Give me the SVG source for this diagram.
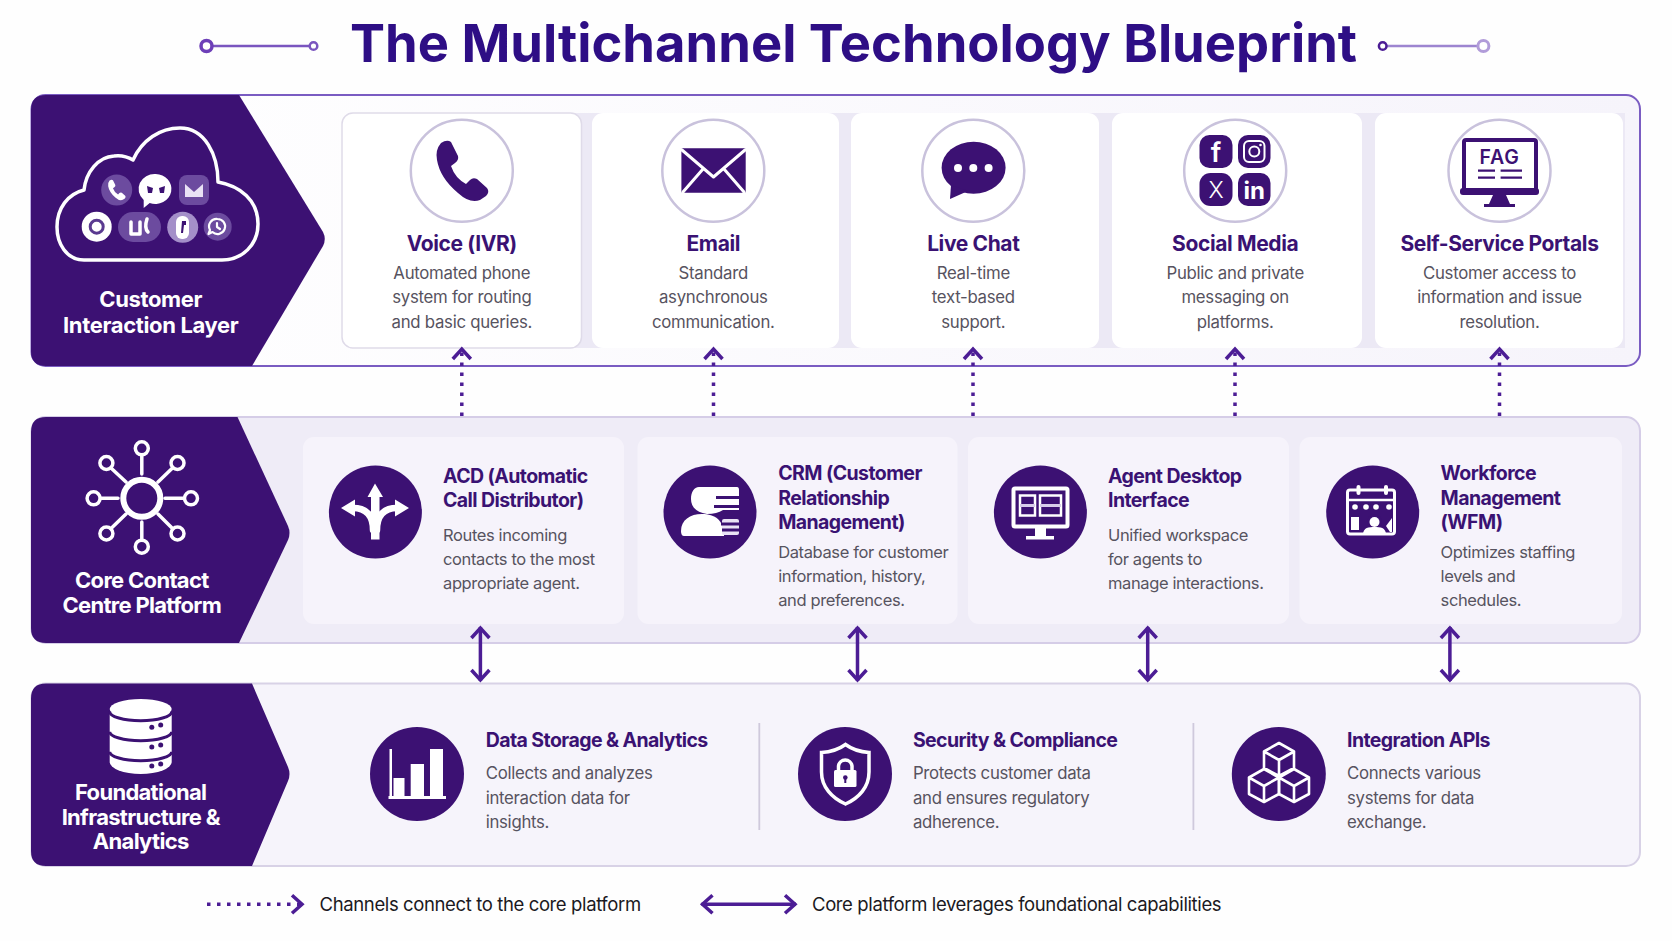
<svg xmlns="http://www.w3.org/2000/svg" xmlns:xlink="http://www.w3.org/1999/xlink" width="1672" height="941" viewBox="0 0 1672 941">
<defs>
<style>
text{font-family:Inter,"Liberation Sans",sans-serif}
.title{font-size:52.5px;font-weight:700;fill:#2e0e85}
.band{font-size:22px;font-weight:700;fill:#fff;text-anchor:middle;letter-spacing:-.35px}
.band2{letter-spacing:-.7px}
.ct{font-size:21px;font-weight:700;fill:#3a1273;text-anchor:middle;letter-spacing:-.38px}
.cd{font-size:16.8px;fill:#575360;text-anchor:middle;letter-spacing:-.28px}
.st{font-size:19.5px;font-weight:700;fill:#3a1273;letter-spacing:-.58px}
.sd{font-size:16.5px;fill:#575360;letter-spacing:-.38px}
.sd3{font-size:16.8px;fill:#575360;letter-spacing:-.3px}
.lg{font-size:18.5px;fill:#1b1922;letter-spacing:-.38px}
.dark{fill:#3c1173}
.w{fill:#fff}
.ws{fill:none;stroke:#fff;stroke-linejoin:round;stroke-linecap:round}
.ring{fill:#fff;stroke:#c9c2dc;stroke-width:2.5}
.card1{fill:#fff}
.card2{fill:#f6f3fb}
.dot{fill:none;stroke:#4c1d95;stroke-width:3.5;stroke-dasharray:3.5 6.5;stroke-linecap:butt}
.solid{fill:none;stroke:#4c1d95;stroke-width:3.5}
.knob{fill:#fff;stroke:#6d3fb8;stroke-width:3.5}
.knobline{stroke:#7a55bf;stroke-width:2.5}
</style>
<marker id="head" markerUnits="userSpaceOnUse" markerWidth="24" markerHeight="24" viewBox="-14 -12 24 24" refX="0" refY="0" orient="auto-start-reverse" overflow="visible">
<path d="M-11,-9 L-1,0 L-11,9" fill="none" stroke="#4c1d95" stroke-width="3.5"/>
</marker>
<path id="phone" d="M441,143 Q447,139 451,142 L458,156 Q459,160 455,163 L451,166 Q455,178 466,184 L470,180 Q473,177 477,179 L487,188 Q490,192 486,196 L480,200 Q470,204 458,193 Q440,178 437,160 Q435,150 441,143 Z"/>
<path id="cube" d="M0,0 L15,8.5 L15,25 L0,33 L-15,25 L-15,8.5 Z M-15,8.5 L0,17 L15,8.5 M0,17 V33"/>
<linearGradient id="p1" x1="0" x2="1" y1="0" y2="0"><stop offset="0" stop-color="#fff"/><stop offset="1" stop-color="#f6f4fb"/></linearGradient>
</defs>
<rect width="1672" height="941" fill="#fefefe"/>

<g id="title">
<text class="title" x="350" y="62">The Multichannel Technology Blueprint</text>
<line class="knobline" x1="212" y1="46" x2="309" y2="46"/>
<circle class="knob" cx="206.5" cy="46" r="5.5"/>
<circle cx="313.5" cy="46" r="3.8" fill="#fff" stroke="#7a55bf" stroke-width="2.5"/>
<line x1="1387" y1="46" x2="1478" y2="46" stroke="#9d85d0" stroke-width="2.5"/>
<circle cx="1382.7" cy="46" r="3.8" fill="#fff" stroke="#4c1d95" stroke-width="2.5"/>
<circle cx="1483.4" cy="46" r="5.5" fill="#fff" stroke="#b19cd9" stroke-width="3"/>
</g>

<g id="layer-customer-interaction">
<rect x="31.5" y="95" width="1608.5" height="271" rx="14" fill="url(#p1)" stroke="#7a5cc2" stroke-width="2"/>
<rect x="575" y="113" width="1050" height="235" fill="#ece9f5"/>
<path class="dark" d="M46,95 H239 L323,232 Q326.500,239 323,246 L252,366 H46 Q31,366 31,351 V110 Q31,95 46,95 Z"/>
<path class="ws" stroke-width="3.5" d="M84,260 C66,260 57,243 57,227 C57,208 68,194 84,190 C86,172 98,157 114,156 C121,155 128,157 133,160 C142,140 160,128 180,128 C205,128 218,155 218,182 C240,186 258,200 258,224 C258,245 242,260 222,260 Z"/>
<circle cx="116.7" cy="190" r="15.5" fill="#6c4b9f"/>
<use href="#phone" fill="#fff" transform="translate(116.7,190) scale(0.34) translate(-462,-171)"/>
<path class="w" d="M155.7,174 a16,15 0 1 1 -6,29 l-6,5 l0,-8 a16,15 0 0 1 12,-26 Z"/>
<path d="M147,186 l6,2 l-1,5 h-4 Z M165,186 l-6,2 l1,5 h4 Z" fill="#3c1173"/>
<rect x="179" y="175" width="30" height="30" rx="8" fill="#6c4b9f"/>
<path d="M185,184 L194,192 L203,184 V197 H185 Z" fill="#e9e2f5"/>
<circle cx="96.7" cy="226.7" r="15" fill="#fff"/>
<circle cx="96.7" cy="226.7" r="6.5" fill="none" stroke="#5a3a90" stroke-width="3"/>
<rect x="118" y="212" width="43" height="30" rx="15" fill="#6c4b9f"/>
<path class="ws" stroke-width="3.5" d="M131,222 V234 H140 V222 M147,219 Q144,228 148,232"/>
<circle cx="182.7" cy="227.3" r="15.5" fill="#a48fc9"/>
<rect x="176" y="216" width="13" height="23" rx="6" fill="#fff"/>
<path d="M182,221 h4 v4 h-2 l-1,8 h-2 Z" fill="#3c1173"/>
<circle cx="217.7" cy="226.7" r="14" fill="#6c4b9f"/>
<path class="ws" stroke-width="2.2" d="M217.5,219 a7.5,7.5 0 1 1 -5,13 l-4,2 l1.500,-4 a7.5,7.5 0 0 1 7.500,-11 Z M217,223 v4 l3,2"/>
<text class="band" x="150.700" y="307">Customer</text>
<text class="band" x="150.700" y="333">Interaction Layer</text>
</g>

<g id="node-voice">
<rect class="card1" x="342" y="113" width="239.500" height="235" rx="11" stroke="#dfdbe9" stroke-width="1.500"/>
<circle class="ring" cx="461.800" cy="170.700" r="51"/>
<use href="#phone" class="dark"/>
<text class="ct" x="461.800" y="251">Voice (IVR)</text>
<text class="cd" x="461.800" y="279">Automated phone</text>
<text class="cd" x="461.800" y="303">system for routing</text>
<text class="cd" x="461.800" y="327.500">and basic queries.</text>
</g>

<g id="node-email">
<rect class="card1" x="592" y="113" width="247" height="235" rx="11"/>
<circle class="ring" cx="713.300" cy="170.700" r="51"/>
<rect class="dark" x="681.400" y="148.300" width="64.300" height="44.400" rx="1.500"/>
<path class="ws" stroke-width="3" d="M682,150 L713.500,177 L745,150 M683,192 L703,169 M744,192 L724,169" stroke-linecap="butt"/>
<text class="ct" x="713.300" y="251">Email</text>
<text class="cd" x="713.300" y="279">Standard</text>
<text class="cd" x="713.300" y="303">asynchronous</text>
<text class="cd" x="713.300" y="327.500">communication.</text>
</g>

<g id="node-live-chat">
<rect class="card1" x="851" y="113" width="248" height="235" rx="11"/>
<circle class="ring" cx="973.300" cy="170.700" r="51"/>
<ellipse class="dark" cx="973.600" cy="167.700" rx="32" ry="26"/>
<path class="dark" d="M951,185 L950,199 L968,191 Z"/>
<circle class="w" cx="958" cy="168" r="4"/><circle class="w" cx="973.300" cy="168" r="4"/><circle class="w" cx="988.600" cy="168" r="4"/>
<text class="ct" x="973.300" y="251">Live Chat</text>
<text class="cd" x="973.300" y="279">Real-time</text>
<text class="cd" x="973.300" y="303">text-based</text>
<text class="cd" x="973.300" y="327.500">support.</text>
</g>

<g id="node-social-media">
<rect class="card1" x="1112" y="113" width="250" height="235" rx="11"/>
<circle class="ring" cx="1235.200" cy="170.700" r="51"/>
<rect class="dark" x="1199.500" y="135" width="33" height="33" rx="10"/>
<rect class="dark" x="1238" y="135" width="32.500" height="33" rx="10"/>
<rect class="dark" x="1199.500" y="173" width="33" height="33" rx="11"/>
<rect class="dark" x="1238" y="173" width="32.500" height="33" rx="10"/>
<text x="1216" y="162" fill="#fff" font-size="27" font-weight="600" text-anchor="middle">f</text>
<rect x="1244" y="141" width="20.500" height="21" rx="5" fill="none" stroke="#fff" stroke-width="2"/>
<circle cx="1254.300" cy="151.500" r="5" fill="none" stroke="#fff" stroke-width="2"/>
<circle cx="1260.500" cy="145" r="1.300" fill="#fff"/>
<text x="1216" y="198" fill="#fff" font-size="23" font-weight="300" text-anchor="middle">X</text>
<text x="1254.200" y="199" fill="#fff" font-size="24" font-weight="700" text-anchor="middle">in</text>
<text class="ct" x="1235.200" y="251">Social Media</text>
<text class="cd" x="1235.200" y="279">Public and private</text>
<text class="cd" x="1235.200" y="303">messaging on</text>
<text class="cd" x="1235.200" y="327.500">platforms.</text>
</g>

<g id="node-self-service">
<rect class="card1" x="1375" y="113" width="248" height="235" rx="11"/>
<circle class="ring" cx="1499.500" cy="170.700" r="51"/>
<rect x="1464" y="140" width="72" height="50" rx="2" fill="#fff" stroke="#3c1173" stroke-width="4"/>
<rect class="dark" x="1460" y="188" width="79" height="7" rx="3"/>
<path class="dark" d="M1493,195 H1506 L1510,204 H1515 V207 H1484 V204 H1489 Z"/>
<text x="1499.500" y="163.500" fill="#3c1173" font-size="19.500" font-weight="600" text-anchor="middle" letter-spacing=".8">FAG</text>
<path d="M1478,170.700 H1495 M1478,177.700 H1495 M1500.600,170.700 H1522 M1500.600,177.700 H1522" stroke="#3c1173" stroke-width="2.200"/>
<text class="ct" x="1499.500" y="251">Self-Service Portals</text>
<text class="cd" x="1499.500" y="279">Customer access to</text>
<text class="cd" x="1499.500" y="303">information and issue</text>
<text class="cd" x="1499.500" y="327.500">resolution.</text>
</g>

<g id="layer-core-platform">
<rect x="31.500" y="417" width="1608.500" height="226" rx="14" fill="#efecf7" stroke="#d5cde7" stroke-width="2"/>
<path class="dark" d="M46,417 H237.500 L288,526 Q291,533 288,540 L239,643 H46 Q31,643 31,628 V432 Q31,417 46,417 Z"/>
<g class="ws" stroke-width="3.500">
<circle cx="141.800" cy="498.300" r="18.500" stroke-width="6"/>
<circle cx="141.800" cy="448.300" r="6.500"/><circle cx="106.400" cy="463" r="6.500"/><circle cx="177.500" cy="463" r="6.500"/>
<circle cx="93.600" cy="498.300" r="6.500"/><circle cx="191" cy="498.300" r="6.500"/>
<circle cx="106.400" cy="533.500" r="6.500"/><circle cx="177.500" cy="533.500" r="6.500"/><circle cx="141.800" cy="546.700" r="6.500"/>
<path d="M141.800,455 V474 M141.800,522 V540 M100.500,498.300 H118 M165,498.300 H184 M111,468 L126,482 M172.500,468 L158,482 M111,528.500 L126,514 M172.500,528.500 L158,514"/>
</g>
<text class="band band2" x="141.800" y="587.500">Core Contact</text>
<text class="band band2" x="141.800" y="612.500">Centre Platform</text>
</g>

<g id="node-acd">
<rect class="card2" x="303" y="437" width="321" height="187" rx="11"/>
<circle class="dark" cx="375.400" cy="512" r="46.500"/>
<path class="w" d="M371,539.500 V497 H367.500 L375,483.500 L383,497 H379.500 V539.500 Z"/>
<path class="ws" stroke-width="6.500" stroke-linecap="butt" d="M373,530 C373,514 365,508 353,508 M377,530 C377,514 385,508 397,508"/>
<path class="w" d="M341,508 L355,499.500 V516.500 Z M409,508 L395,499.500 V516.500 Z"/>
<text class="st" x="443" y="483">ACD (Automatic</text>
<text class="st" x="443" y="507.300">Call Distributor)</text>
<text class="sd" x="443" y="540.700">Routes incoming</text>
<text class="sd" x="443" y="564.700">contacts to the most</text>
<text class="sd" x="443" y="589">appropriate agent.</text>
</g>

<g id="node-crm">
<rect class="card2" x="637.500" y="437" width="320" height="187" rx="11"/>
<circle class="dark" cx="710" cy="512" r="46.500"/>
<path class="w" d="M699,487 H737 Q739,487 739,490 V510 H723 Q717,514 707,514 C695,512 691,506 691,499 C691,492 694,487 699,487 Z"/>
<path class="w" d="M681,531 C681,520 690,514 702,514 C715,514 724,520 724,536 H684 Q681,536 681,531 Z"/>
<rect x="722" y="519" width="17" height="16" rx="2" fill="#e9e2f5"/>
<path d="M716,497.500 H739 M714,506.500 H739 M721,524 H739 M722,530 H739" stroke="#3c1173" stroke-width="3"/>
<text class="st" x="778.200" y="480">CRM (Customer</text>
<text class="st" x="778.200" y="504.500">Relationship</text>
<text class="st" x="778.200" y="529">Management)</text>
<text class="sd" x="778.200" y="557.500">Database for customer</text>
<text class="sd" x="778.200" y="581.500">information, history,</text>
<text class="sd" x="778.200" y="605.500">and preferences.</text>
</g>

<g id="node-agent-desktop">
<rect class="card2" x="968" y="437" width="321" height="187" rx="11"/>
<circle class="dark" cx="1040.400" cy="512" r="46.500"/>
<rect x="1013.500" y="488.500" width="54" height="38" rx="1.500" fill="none" stroke="#fff" stroke-width="4"/>
<rect x="1020" y="495.500" width="15" height="20" fill="none" stroke="#fff" stroke-width="2.500"/>
<rect x="1040" y="495.500" width="21" height="20" fill="none" stroke="#fff" stroke-width="2.500"/>
<path d="M1020,505.500 H1035 M1040,505.500 H1061" stroke="#d8cdea" stroke-width="3"/>
<path class="w" d="M1035,528 H1046 V536 H1054 V539.500 H1026 V536 H1035 Z"/>
<text class="st" x="1108" y="483">Agent Desktop</text>
<text class="st" x="1108" y="507.300">Interface</text>
<text class="sd" x="1108" y="540.700">Unified workspace</text>
<text class="sd" x="1108" y="564.700">for agents to</text>
<text class="sd" x="1108" y="589">manage interactions.</text>
</g>

<g id="node-wfm">
<rect class="card2" x="1299.500" y="437" width="322.500" height="187" rx="11"/>
<circle class="dark" cx="1372.700" cy="512" r="46.500"/>
<rect x="1347.500" y="490" width="47" height="44" rx="2.500" fill="none" stroke="#fff" stroke-width="3"/>
<path d="M1347.500,500 H1394.500" stroke="#fff" stroke-width="2.500"/>
<rect class="w" x="1356.500" y="485" width="4" height="10" rx="2"/><rect class="w" x="1384" y="485" width="4" height="10" rx="2"/>
<circle class="w" cx="1355" cy="507" r="2.800"/><circle class="w" cx="1366" cy="507" r="2.800"/><circle class="w" cx="1376" cy="507" r="2.800"/><circle class="w" cx="1389" cy="507" r="2.800"/>
<rect class="w" x="1351" y="517" width="8" height="13"/>
<circle class="dark" cx="1374.500" cy="522" r="7.500"/><circle class="w" cx="1374.500" cy="522" r="5"/>
<path class="w" d="M1363,535 C1363,527 1369,527 1374.500,527 C1380,527 1386,527 1386,535 Z"/>
<path class="w" d="M1386,526 L1392,518 V532 H1390 Z"/>
<text class="st" x="1440.600" y="480">Workforce</text>
<text class="st" x="1440.600" y="504.500">Management</text>
<text class="st" x="1440.600" y="529">(WFM)</text>
<text class="sd" x="1440.600" y="557.500">Optimizes staffing</text>
<text class="sd" x="1440.600" y="581.500">levels and</text>
<text class="sd" x="1440.600" y="605.500">schedules.</text>
</g>

<g id="layer-foundation">
<rect x="31.500" y="683.500" width="1608.500" height="182.500" rx="14" fill="#f6f4fb" stroke="#d8d2e6" stroke-width="2"/>
<path class="dark" d="M46,683.500 H252 L288,767 Q291,774 288,781 L252,866 H46 Q31,866 31,851 V698.500 Q31,683.500 46,683.500 Z"/>
<ellipse class="w" cx="140.700" cy="709" rx="31" ry="10"/>
<path class="w" d="M109.700,712 V762 A31,12 0 0 0 171.700,762 V712 Z"/>
<path d="M109.700,711.700 A31,9 0 0 0 171.700,711.700 M109.700,731.700 A31,9 0 0 0 171.700,731.700 M109.700,751.700 A31,9 0 0 0 171.700,751.700" fill="none" stroke="#3c1173" stroke-width="3"/>
<g class="dark"><circle cx="151.800" cy="727.300" r="2.500"/><circle cx="160.700" cy="725" r="2.500"/><circle cx="151.800" cy="747" r="2.500"/><circle cx="160.700" cy="745" r="2.500"/><circle cx="151.800" cy="766" r="2.500"/><circle cx="160.700" cy="764" r="2.500"/></g>
<text class="band band2" x="140.700" y="800">Foundational</text>
<text class="band band2" x="140.700" y="824.500">Infrastructure &amp;</text>
<text class="band band2" x="140.700" y="849.300">Analytics</text>
<line x1="759.300" y1="723" x2="759.300" y2="830" stroke="#cfc9dc" stroke-width="1.800"/>
<line x1="1193.400" y1="723" x2="1193.400" y2="830" stroke="#cfc9dc" stroke-width="1.800"/>
</g>

<g id="node-data-storage">
<circle class="dark" cx="417" cy="774" r="47"/>
<path class="w" d="M389.500,749 H392 V796 H446 V799 H388.500 V796 H389.500 Z"/>
<rect class="w" x="393.500" y="778" width="11" height="18"/><rect class="w" x="410.700" y="764" width="13.300" height="32"/><rect class="w" x="430" y="749" width="13" height="47"/>
<text class="st" x="485.700" y="747.300">Data Storage &amp; Analytics</text>
<text class="sd3" x="485.700" y="779.300">Collects and analyzes</text>
<text class="sd3" x="485.700" y="803.500">interaction data for</text>
<text class="sd3" x="485.700" y="828">insights.</text>
</g>

<g id="node-security">
<circle class="dark" cx="845" cy="774" r="47"/>
<path d="M845.500,744.500 C853,750 861,752 869,752.500 V772 C869,787 859,798 845.500,804 C832,798 821.500,787 821.500,772 V752.500 C830,752 838,750 845.500,744.500 Z" fill="none" stroke="#fff" stroke-width="3.500"/>
<rect class="w" x="834" y="770" width="22.500" height="17" rx="1.500"/>
<path d="M838.500,771 V766 A6.800,6.800 0 0 1 852,766 V771" fill="none" stroke="#fff" stroke-width="3.500"/>
<circle class="dark" cx="845.300" cy="777.500" r="2.300"/><rect class="dark" x="844.300" y="778" width="2" height="5"/>
<text class="st" x="912.900" y="747.300">Security &amp; Compliance</text>
<text class="sd3" x="912.900" y="779.300">Protects customer data</text>
<text class="sd3" x="912.900" y="803.500">and ensures regulatory</text>
<text class="sd3" x="912.900" y="828">adherence.</text>
</g>

<g id="node-integration">
<circle class="dark" cx="1278.800" cy="774" r="47"/>
<use href="#cube" class="ws" stroke-width="2.600" transform="translate(1279,743)"/>
<use href="#cube" class="ws" stroke-width="2.600" transform="translate(1264,769)"/>
<use href="#cube" class="ws" stroke-width="2.600" transform="translate(1294,769)"/>
<text class="st" x="1347" y="747.300">Integration APIs</text>
<text class="sd3" x="1347" y="779.300">Connects various</text>
<text class="sd3" x="1347" y="803.500">systems for data</text>
<text class="sd3" x="1347" y="828">exchange.</text>
</g>

<g id="connectors">
<line class="dot" x1="461.800" y1="416" x2="461.800" y2="348" marker-end="url(#head)"/>
<line class="dot" x1="713.500" y1="416" x2="713.500" y2="348" marker-end="url(#head)"/>
<line class="dot" x1="973" y1="416" x2="973" y2="348" marker-end="url(#head)"/>
<line class="dot" x1="1235" y1="416" x2="1235" y2="348" marker-end="url(#head)"/>
<line class="dot" x1="1499.500" y1="416" x2="1499.500" y2="348" marker-end="url(#head)"/>
<line class="solid" x1="480.400" y1="627" x2="480.400" y2="681" marker-start="url(#head)" marker-end="url(#head)"/>
<line class="solid" x1="857.500" y1="627" x2="857.500" y2="681" marker-start="url(#head)" marker-end="url(#head)"/>
<line class="solid" x1="1147.700" y1="627" x2="1147.700" y2="681" marker-start="url(#head)" marker-end="url(#head)"/>
<line class="solid" x1="1449.900" y1="627" x2="1449.900" y2="681" marker-start="url(#head)" marker-end="url(#head)"/>
</g>

<g id="legend">
<line class="dot" x1="207" y1="904.300" x2="303" y2="904.300" marker-end="url(#head)"/>
<text class="lg" x="319.600" y="910.500">Channels connect to the core platform</text>
<line class="solid" x1="701.500" y1="904.300" x2="796" y2="904.300" marker-start="url(#head)" marker-end="url(#head)"/>
<text class="lg" x="812" y="910.500">Core platform leverages foundational capabilities</text>
</g>
</svg>
